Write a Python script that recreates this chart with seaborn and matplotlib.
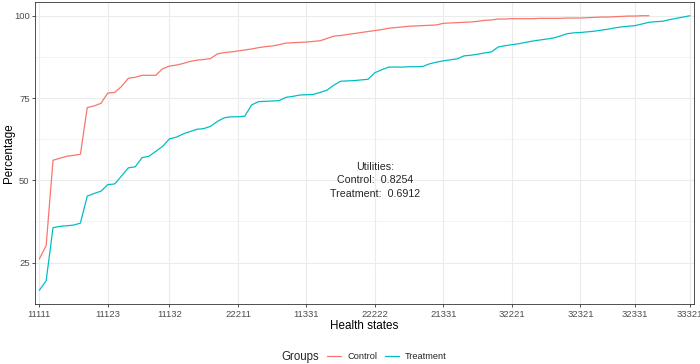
import numpy as np
import pandas as pd
import matplotlib
matplotlib.use("Agg")
import matplotlib.pyplot as plt
import seaborn as sns

# cumulative percentage per health state (states ranked by utility)
control_pct = [26.1, 30.2, 56.1, 56.7, 57.3, 57.6, 57.9, 72.1, 72.6, 73.4,
               76.5, 76.7, 78.5, 81.0, 81.3, 81.9, 81.9, 81.9, 83.9, 84.7,
               85.0, 85.5, 86.1, 86.5, 86.7, 87.0, 88.4, 88.8, 89.0, 89.3,
               89.6, 89.9, 90.3, 90.6, 90.8, 91.2, 91.7, 91.8, 91.9, 92.0,
               92.2, 92.4, 93.1, 93.8, 94.0, 94.3, 94.6, 94.9, 95.2, 95.5,
               95.8, 96.2, 96.4, 96.6, 96.8, 96.9, 97.0, 97.1, 97.2, 97.7,
               97.8, 97.9, 98.0, 98.1, 98.3, 98.6, 98.7, 99.0, 99.0, 99.1,
               99.1, 99.1, 99.1, 99.2, 99.2, 99.2, 99.2, 99.3, 99.3, 99.3,
               99.4, 99.5, 99.6, 99.6, 99.7, 99.8, 99.9, 99.9, 100.0, 100.0]

treatment_pct = [16.6, 19.5, 35.6, 36.0, 36.2, 36.4, 37.0, 45.2, 46.0, 46.7,
                 48.7, 48.9, 51.3, 53.8, 54.1, 56.9, 57.3, 58.8, 60.3, 62.6,
                 63.1, 64.1, 64.8, 65.5, 65.7, 66.4, 67.9, 69.0, 69.3, 69.3,
                 69.5, 72.9, 73.9, 74.0, 74.1, 74.2, 75.2, 75.5, 75.9, 76.0,
                 76.1, 76.7, 77.4, 78.9, 80.1, 80.2, 80.3, 80.5, 80.7, 82.7,
                 83.6, 84.4, 84.4, 84.4, 84.5, 84.5, 84.6, 85.4, 85.9, 86.3,
                 86.6, 86.9, 87.8, 88.0, 88.3, 88.7, 89.0, 90.5, 90.9, 91.2,
                 91.5, 91.9, 92.3, 92.6, 92.9, 93.2, 93.8, 94.5, 94.8, 94.9,
                 95.1, 95.3, 95.6, 95.9, 96.3, 96.6, 96.8, 97.0, 97.5, 98.0,
                 98.2, 98.3, 98.8, 99.2, 99.6, 100.0]

groups = ["Control", "Treatment"]
colors = ["#F8766D", "#00BFC4"]

# health state labels shown on the x axis and their rank
tick_states = ["11111", "11123", "11132", "22211", "11331", "22222",
               "21331", "32221", "32321", "32331", "33321"]
tick_rank = [0, 10, 19, 29, 39, 49, 59, 69, 79, 87, 95]
n_states = 96

utilities = {"Control": "0.8254", "Treatment": "0.6912"}

df = pd.concat([
    pd.DataFrame({"rank": np.arange(len(control_pct)), "pct": control_pct, "Groups": "Control"}),
    pd.DataFrame({"rank": np.arange(len(treatment_pct)), "pct": treatment_pct, "Groups": "Treatment"}),
])

sns.set_style("white")
plt.rcParams["font.family"] = ["Liberation Sans", "DejaVu Sans"]

fig = plt.figure(figsize=(7, 3.64), dpi=100)
W, H = 700, 364
ax = fig.add_axes([35.2 / W, 1 - 304 / H, (694.1 - 35.2) / W, (304 - 2) / H])

sns.lineplot(data=df, x="rank", y="pct", hue="Groups", hue_order=groups,
             palette=colors, linewidth=0.9, errorbar=None, ax=ax)

# axis limits like ggplot expansion
ymin = min(min(control_pct), min(treatment_pct))
ymax = max(max(control_pct), max(treatment_pct))
pad = (ymax - ymin) * 0.05
ax.set_ylim(ymin - pad, ymax + pad)
ax.set_xlim(-0.6, n_states - 1 + 0.6)

ax.set_xticks(tick_rank)
ax.set_xticklabels(tick_states)
ax.set_yticks([25, 50, 75, 100])
ax.set_yticks([37.5, 62.5, 87.5], minor=True)

ax.grid(True, which="major", color="#EBEBEB", linewidth=0.8)
ax.grid(True, which="minor", axis="y", color="#EBEBEB", linewidth=0.4)
ax.set_axisbelow(True)

for s in ax.spines.values():
    s.set_color("#333333")
    s.set_linewidth(0.6)

ax.tick_params(axis="both", which="major", length=2.0, width=0.6, color="#333333",
               labelsize=6.8, labelcolor="#4D4D4D", pad=2.0, bottom=True, left=True)
ax.tick_params(axis="y", which="minor", length=0, left=False)

ax.set_xlabel("Health states", fontsize=8.4, color="black")
ax.xaxis.set_label_coords(0.5, -0.053)
ax.set_ylabel("Percentage", fontsize=8.4, color="black")
ax.yaxis.set_label_coords(-0.031, 0.5)

# utilities annotation
ax.text(49, 50, "Utilities:\nControl:  %s\nTreatment:  %s" % (utilities["Control"], utilities["Treatment"]),
        ha="center", va="center", multialignment="center", fontsize=7.7, linespacing=1.45)

# legend at the bottom, title on the left
handles, labels = ax.get_legend_handles_labels()
ax.get_legend().remove()
fig.text(281.7 / W, 1 - 356.7 / H, "Groups", fontsize=8.3, ha="left", va="center")
fig.legend(handles, labels, loc="center left", bbox_to_anchor=(326.7 / W, 1 - 356.7 / H),
           ncol=2, frameon=False, fontsize=6.7, handlelength=1.5, handletextpad=0.7,
           columnspacing=0.8, borderpad=0, borderaxespad=0)

fig.savefig("out.png", dpi=100, facecolor="white")
